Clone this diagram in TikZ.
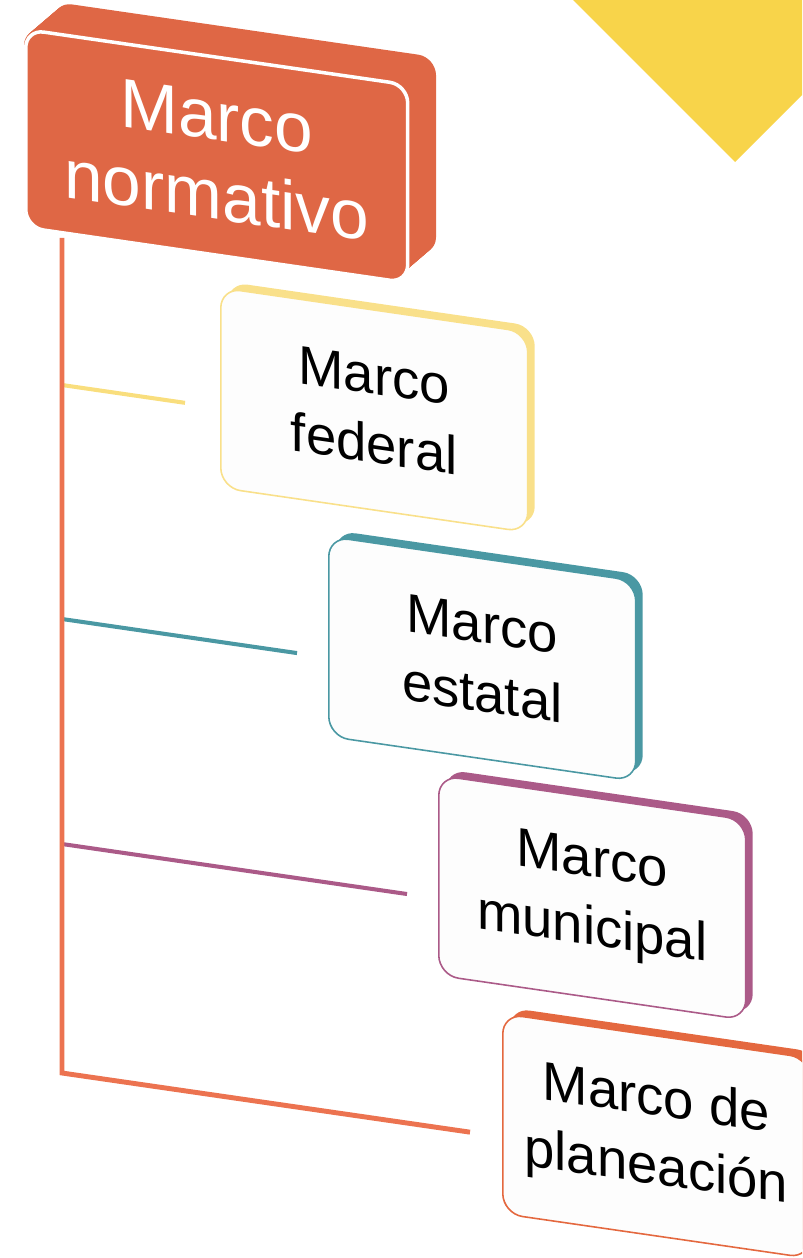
\documentclass[tikz,border=0pt]{standalone}
\usepackage{fontspec}
\setmainfont{Liberation Sans}
\usetikzlibrary{shadows}
\definecolor{naranja}{HTML}{DF6745}
\definecolor{tronco}{HTML}{EC7350}
\definecolor{amarillo}{HTML}{F8D44A}
\definecolor{federal}{HTML}{F9E08A}
\definecolor{estatal}{HTML}{4A98A3}
\definecolor{municipal}{HTML}{AB5A88}
\definecolor{planeacion}{HTML}{E4683F}
\definecolor{fondo}{HTML}{FDFDFD}
\begin{document}
\begin{tikzpicture}[x=0.02cm,y=-0.02cm,
    principal/.style={fill=naranja,draw=white,line width=2pt,rounded corners=0.36cm,
      minimum width=7.64cm,minimum height=3.96cm,inner sep=0pt,anchor=north west,
      align=center,transform shape,text=white,font=\fontsize{39.5}{45}\selectfont},
    marco/.style={fill=fondo,draw=#1,line width=0.9pt,rounded corners=0.4cm,
      general shadow={fill=#1,shadow xshift=0.14cm,shadow yshift=0.12cm},
      minimum width=6.14cm,minimum height=4cm,inner sep=0pt,anchor=north west,
      align=center,transform shape,font=\fontsize{31}{39}\selectfont},
    rama/.style={draw=#1,line width=2.3pt}]
\clip (0,0) rectangle (802,1258);
\fill[amarillo] (573,0) -- (735,162) -- (802,95) -- (802,0) -- cycle;
\begin{scope}[yslant=-0.145]
\foreach \s in {0,...,30}
  \fill[naranja,rounded corners=0.36cm] (24+\s,24-\s) rectangle ++(382,198);
\node[principal] (normativo) at (24,24) {Marco\\normativo};
\node[marco=federal] (fed) at (220,255) {Marco\\federal};
\node[marco=estatal] (est) at (328,488) {Marco\\estatal};
\node[marco=municipal] (mun) at (438,711) {Marco\\municipal};
\node[marco=planeacion] (pla) at (502,940) {Marco de\\planeación};
\coordinate (t0) at (62,229);
\coordinate (t1) at (62,1064);
\coordinate (fedfin) at (185,376);
\coordinate (estfin) at (297,610);
\coordinate (munfin) at (407,835);
\coordinate (plafin) at (470,1064);
\draw[rama=federal!80!amarillo] (t0 |- fedfin) -- (fedfin);
\draw[rama=estatal] (t0 |- estfin) -- (estfin);
\draw[rama=municipal] (t0 |- munfin) -- (munfin);
\draw[rama=tronco,line width=2.8pt] (t0) -- (t1) -- (plafin);
\end{scope}
\end{tikzpicture}
\end{document}
